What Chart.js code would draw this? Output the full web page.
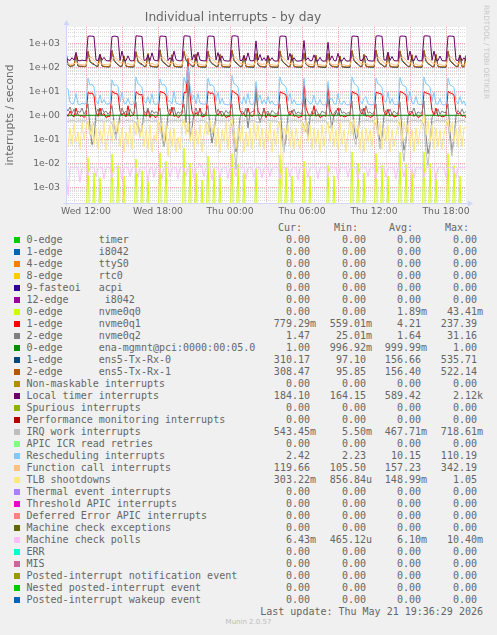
<!DOCTYPE html>
<html>
<head>
<meta charset="utf-8">
<script src="https://cdn.jsdelivr.net/npm/chart.js@4/dist/chart.umd.min.js"></script>
<style>
  html, body { margin: 0; padding: 0; background: #f0f0f0; }
  #wrap { position: relative; width: 497px; height: 635px; overflow: hidden; }
  #c { position: absolute; left: 0; top: 0; }
  .txt { position: absolute; white-space: pre; line-height: 12px; height: 12px;
         font-family: 'DejaVu Sans Mono', monospace; font-size: 10px; color: #666; }
  .sw { position: absolute; width: 6px; height: 6px; }
  #rrd { position: absolute; left: 482px; top: 5px; writing-mode: vertical-rl;
         font-family: 'DejaVu Sans', sans-serif; font-size: 7.3px; color: #c8c8c8; }
  #munin { position: absolute; left: 0; width: 497px; top: 618px; text-align: center;
           font-family: 'DejaVu Sans', sans-serif; font-size: 7px; color: #bdbdbd; }
</style>
</head>
<body>
<div id="wrap">
  <canvas id="c" width="497" height="222"></canvas>
  <div id="rrd">RRDTOOL / TOBI OETIKER</div>
  <div id="legend"></div>
  <div id="munin">Munin 2.0.57</div>
</div>
<script>
// time axis: 10 minute steps from Wed 10:20 (hours since Wed 00:00)
const startHour = 10 + 20 / 60;
const stepHours = 10 / 60;
const endHour = 43 + 40 / 60;

const xTickHours = [12, 18, 24, 30, 36, 42];
const xTickLabels = ['Wed 12:00', 'Wed 18:00', 'Thu 00:00', 'Thu 06:00', 'Thu 12:00', 'Thu 18:00'];
const yTickValues = [1e-3, 1e-2, 1e-1, 1, 10, 100, 1000];

// legend table
const names = [
  '0-edge      timer', '1-edge      i8042', '4-edge      ttyS0', '8-edge      rtc0',
  '9-fasteoi   acpi', '12-edge      i8042', '0-edge      nvme0q0', '1-edge      nvme0q1',
  '2-edge      nvme0q2', '0-edge      ena-mgmnt@pci:0000:00:05.0', '1-edge      ens5-Tx-Rx-0',
  '2-edge      ens5-Tx-Rx-1', 'Non-maskable interrupts', 'Local timer interrupts',
  'Spurious interrupts', 'Performance monitoring interrupts', 'IRQ work interrupts',
  'APIC ICR read retries', 'Rescheduling interrupts', 'Function call interrupts',
  'TLB shootdowns', 'Thermal event interrupts', 'Threshold APIC interrupts',
  'Deferred Error APIC interrupts', 'Machine check exceptions', 'Machine check polls',
  'ERR', 'MIS', 'Posted-interrupt notification event', 'Nested posted-interrupt event',
  'Posted-interrupt wakeup event'
];
const colors = [
  '#00CC00', '#0066B3', '#FF8000', '#FFCC00', '#330099', '#990099', '#CCFF00', '#FF0000',
  '#808080', '#008F00', '#00487D', '#B35A00', '#B38F00', '#6B006B', '#8FB300', '#B30000',
  '#BEBEBE', '#80FF80', '#80C9FF', '#FFC080', '#FFE680', '#AA80FF', '#EE00CC', '#FF8080',
  '#666600', '#FFBFFF', '#00FFCC', '#CC6699', '#999900', '#00CC00', '#0066B3'
];
const curVals = ['0.00', '0.00', '0.00', '0.00', '0.00', '0.00', '0.00', '779.29m', '1.47', '1.00',
  '310.17', '308.47', '0.00', '184.10', '0.00', '0.00', '543.45m', '0.00', '2.42', '119.66',
  '303.22m', '0.00', '0.00', '0.00', '0.00', '6.43m', '0.00', '0.00', '0.00', '0.00', '0.00'];
const minVals = ['0.00', '0.00', '0.00', '0.00', '0.00', '0.00', '0.00', '559.01m', '25.01m', '996.92m',
  '97.10', '95.85', '0.00', '164.15', '0.00', '0.00', '5.50m', '0.00', '2.23', '105.50',
  '856.84u', '0.00', '0.00', '0.00', '0.00', '465.12u', '0.00', '0.00', '0.00', '0.00', '0.00'];
const avgVals = ['0.00', '0.00', '0.00', '0.00', '0.00', '0.00', '1.89m', '4.21', '1.64', '999.99m',
  '156.66', '156.40', '0.00', '589.42', '0.00', '0.00', '467.71m', '0.00', '10.15', '157.23',
  '148.99m', '0.00', '0.00', '0.00', '0.00', '6.10m', '0.00', '0.00', '0.00', '0.00', '0.00'];
const maxVals = ['0.00', '0.00', '0.00', '0.00', '0.00', '0.00', '43.41m', '237.39', '31.16', '1.00',
  '535.71', '522.14', '0.00', '2.12k', '0.00', '0.00', '718.61m', '0.00', '110.19', '342.19',
  '1.05', '0.00', '0.00', '0.00', '0.00', '10.40m', '0.00', '0.00', '0.00', '0.00', '0.00'];

// series, one value per 10 minutes (201 values)
const nvme0q0 = [
  0, 0, 0, 0, 0, 0, 0, 0, 0, 0,
  0, 0.017, 0, 0, 0.004, 0, 0, 0.0025, 0, 0, 0, 0,
  0, 0.024, 0, 0, 0.008, 0, 0, 0.003, 0, 0, 0, 0,
  0, 0.015, 0, 0, 0.005, 0, 0, 0.003, 0, 0, 0, 0,
  0, 0.027, 0, 0, 0.012, 0, 0, 0, 0, 0, 0, 0,
  0, 0.0434, 0, 0, 0.01, 0, 0, 0.004, 0, 0, 0.002, 0,
  0, 0.02, 0, 0, 0.006, 0, 0, 0.003, 0, 0, 0, 0,
  0, 0.025, 0, 0, 0.009, 0, 0, 0.004, 0, 0, 0, 0,
  0, 0.006, 0, 0, 0, 0, 0, 0, 0, 0, 0, 0,
  0, 0.022, 0, 0, 0.007, 0, 0, 0.003, 0, 0, 0, 0,
  0, 0.012, 0, 0, 0.003, 0, 0, 0, 0, 0, 0, 0,
  0, 0.008, 0, 0, 0.003, 0, 0, 0, 0, 0, 0, 0,
  0, 0.03, 0, 0, 0.01, 0, 0, 0.004, 0, 0, 0, 0,
  0, 0.025, 0, 0, 0.008, 0, 0, 0.003, 0, 0, 0, 0,
  0, 0.028, 0, 0, 0.009, 0, 0, 0.005, 0, 0, 0, 0,
  0, 0.03, 0, 0, 0.01, 0, 0, 0.004, 0, 0, 0, 0,
  0, 0.025, 0, 0, 0.008, 0, 0, 0.003, 0, 0, 0
];
const nvme0q1 = [
  1.2, 0.9, 1.5, 1.0, 0.85, 2.0, 1.1, 0.9, 1.0, 0.8,
  1.0, 9.0, 8.0, 8.5, 6.5, 1.3, 0.9, 2.0, 1.0, 1.2, 0.8, 0.9,
  0.9, 10.5, 8.5, 8.0, 7.5, 1.5, 1.0, 1.3, 0.85, 2.5, 0.9, 1.0,
  1.1, 9.5, 8.0, 7.0, 7.5, 1.2, 0.9, 1.8, 0.8, 1.1, 0.9, 0.8,
  1.0, 10.0, 9.0, 8.5, 7.0, 1.4, 1.0, 2.2, 0.9, 1.0, 0.8, 0.9,
  1.2, 9.0, 8.5, 237, 7.0, 1.5, 0.9, 1.3, 1.0, 2.0, 0.85, 0.9,
  1.0, 10.0, 8.0, 8.5, 7.5, 1.3, 1.0, 1.5, 0.9, 1.1, 0.8, 0.9,
  0.9, 11.0, 9.0, 8.0, 7.0, 1.6, 1.1, 1.2, 0.85, 2.0, 1.0, 0.9,
  1.0, 15.0, 1.5, 1.1, 0.9, 2.0, 0.8, 1.2, 0.9, 1.0, 0.85, 0.9,
  1.0, 9.5, 8.5, 8.0, 7.0, 1.4, 1.0, 1.6, 0.9, 1.0, 0.8, 0.85,
  0.9, 25.0, 2.0, 1.2, 0.9, 1.0, 2.5, 0.9, 1.1, 0.8, 0.9, 1.0,
  0.9, 18.0, 1.8, 1.1, 0.9, 1.3, 2.0, 0.9, 1.0, 0.85, 0.9, 1.0,
  1.0, 10.0, 8.5, 8.0, 7.0, 1.5, 1.1, 2.0, 0.9, 1.0, 0.8, 0.9,
  1.0, 9.0, 8.5, 8.0, 7.5, 1.4, 1.0, 1.8, 0.9, 1.2, 0.85, 0.9,
  1.0, 10.0, 9.0, 8.0, 7.0, 1.3, 1.0, 1.5, 0.9, 1.1, 0.8, 0.9,
  1.0, 9.5, 8.5, 8.0, 7.5, 1.6, 1.0, 2.0, 0.9, 1.0, 0.85, 0.9,
  1.0, 10.0, 8.5, 8.0, 7.0, 1.4, 1.1, 1.3, 0.9, 1.0, 0.78
];
const nvme0q2 = [
  2.0, 1.5, 2.2, 1.2, 1.8, 1.0, 1.5, 1.3, 2.0, 1.1,
  1.5, 3.0, 0.3, 0.06, 0.1, 1.2, 1.8, 1.0, 2.0, 1.3, 1.5, 1.1,
  1.4, 2.5, 0.5, 0.16, 0.3, 1.0, 2.0, 1.2, 1.5, 1.0, 1.8, 1.2,
  1.3, 3.5, 0.4, 0.19, 0.25, 1.5, 1.2, 2.0, 1.0, 1.6, 1.2, 1.4,
  1.2, 2.0, 0.2, 0.05, 0.15, 1.1, 1.8, 1.3, 2.2, 1.0, 1.4, 1.2,
  1.5, 3.0, 0.5, 31, 0.12, 0.3, 1.2, 2.0, 1.1, 1.6, 1.3, 1.0,
  1.3, 2.5, 0.3, 0.07, 0.2, 1.0, 1.8, 1.2, 1.5, 1.1, 1.6, 1.2,
  1.4, 3.0, 0.2, 0.03, 0.1, 0.8, 1.5, 1.2, 2.0, 0.3, 1.2, 1.4,
  1.5, 10, 1.2, 0.5, 1.0, 1.8, 1.2, 1.5, 1.0, 1.6, 1.3, 1.1,
  1.3, 3.0, 0.2, 0.04, 0.1, 1.0, 1.5, 1.2, 1.8, 1.1, 1.4, 1.2,
  1.2, 6.0, 0.5, 0.12, 0.8, 1.5, 1.1, 1.8, 1.2, 1.0, 1.5, 1.3,
  1.2, 5.0, 1.0, 0.3, 1.2, 1.6, 1.0, 2.0, 1.2, 1.4, 1.1, 1.3,
  1.2, 4.0, 0.3, 0.1, 0.15, 1.2, 1.8, 1.0, 2.5, 1.2, 1.4, 1.1,
  1.3, 3.0, 0.25, 0.08, 0.12, 1.0, 1.6, 1.2, 1.8, 1.1, 1.5, 1.2,
  1.2, 3.5, 0.2, 0.035, 0.08, 0.9, 1.5, 1.3, 2.0, 1.0, 1.4, 1.2,
  1.3, 4.0, 0.15, 0.025, 0.06, 0.8, 1.4, 1.2, 1.8, 1.1, 1.5, 1.3,
  1.3, 3.0, 0.2, 0.03, 0.1, 1.0, 1.6, 1.2, 1.8, 1.2, 1.47
];
const enaMgmnt = [
  1, 1, 1, 1, 1, 1, 1, 1, 1, 1,
  1, 1, 1, 1, 1, 1, 1, 1, 1, 1, 1, 1,
  1, 1, 1, 1, 1, 1, 1, 1, 1, 1, 1, 1,
  1, 1, 1, 1, 1, 1, 1, 1, 1, 1, 1, 1,
  1, 1, 1, 1, 1, 1, 1, 1, 1, 1, 1, 1,
  1, 1, 1, 0.997, 1, 1, 1, 1, 1, 1, 1, 1,
  1, 1, 1, 1, 1, 1, 1, 1, 1, 1, 1, 1,
  1, 1, 1, 1, 1, 1, 1, 1, 1, 1, 1, 1,
  1, 1, 1, 1, 1, 1, 1, 1, 1, 1, 1, 1,
  1, 1, 1, 1, 1, 1, 1, 1, 1, 1, 1, 1,
  1, 1, 1, 1, 1, 1, 1, 1, 1, 1, 1, 1,
  1, 1, 1, 1, 1, 1, 1, 1, 1, 1, 1, 1,
  1, 1, 1, 1, 1, 1, 1, 1, 1, 1, 1, 1,
  1, 1, 1, 1, 1, 1, 1, 1, 1, 1, 1, 1,
  1, 1, 1, 1, 1, 1, 1, 1, 1, 1, 1, 1,
  1, 1, 1, 1, 1, 1, 1, 1, 1, 1, 1, 1,
  1, 1, 1, 1, 1, 1, 1, 1, 1, 1, 1
];
const txRx0 = [
  430, 125, 108, 112, 118, 320, 112, 108, 110, 106,
  107, 450, 170, 140, 130, 112, 107, 330, 112, 107, 105, 102,
  105, 500, 190, 150, 125, 108, 106, 290, 110, 105, 103, 101,
  104, 440, 170, 140, 130, 108, 105, 360, 112, 106, 104, 101,
  103, 535, 180, 150, 128, 109, 106, 320, 110, 104, 103, 100,
  102, 450, 190, 160, 130, 110, 106, 340, 108, 104, 101, 100,
  101, 460, 180, 140, 125, 108, 104, 330, 106, 103, 101, 100,
  101, 500, 190, 150, 128, 108, 104, 300, 106, 103, 101, 100,
  100, 360, 125, 108, 104, 102, 101, 280, 106, 102, 100, 99,
  99, 470, 180, 150, 125, 106, 103, 320, 106, 102, 100, 99,
  99, 380, 135, 110, 104, 102, 101, 300, 106, 102, 100, 98,
  98, 370, 125, 108, 104, 102, 100, 290, 104, 101, 99, 97,
  99, 480, 190, 150, 130, 108, 104, 330, 108, 103, 101, 100,
  100, 510, 180, 140, 125, 106, 104, 340, 106, 102, 100, 99,
  100, 470, 190, 150, 128, 108, 104, 320, 106, 102, 100, 99,
  100, 490, 180, 140, 125, 106, 103, 330, 106, 102, 100, 99,
  100, 460, 190, 150, 128, 108, 104, 310, 106, 102, 310
];
const txRx1 = [
  450, 130, 110, 115, 120, 350, 115, 110, 112, 108,
  110, 470, 180, 150, 140, 115, 110, 350, 115, 110, 108, 105,
  108, 480, 200, 160, 130, 112, 110, 300, 112, 108, 106, 105,
  108, 450, 180, 150, 140, 112, 108, 380, 115, 110, 107, 105,
  107, 500, 190, 160, 135, 112, 110, 340, 112, 108, 106, 104,
  106, 460, 200, 170, 140, 115, 110, 360, 112, 108, 105, 104,
  105, 470, 190, 150, 130, 112, 108, 350, 110, 107, 105, 104,
  105, 520, 200, 160, 135, 112, 108, 320, 110, 107, 105, 104,
  105, 380, 130, 112, 108, 106, 105, 300, 110, 106, 104, 103,
  104, 480, 190, 160, 130, 110, 107, 340, 110, 106, 104, 103,
  104, 400, 140, 115, 108, 106, 105, 320, 110, 106, 104, 103,
  103, 380, 130, 112, 108, 106, 104, 300, 108, 105, 104, 103,
  104, 500, 200, 160, 140, 112, 108, 350, 112, 107, 105, 104,
  104, 522, 190, 150, 130, 110, 108, 360, 110, 106, 104, 103,
  104, 480, 200, 160, 135, 112, 108, 340, 110, 106, 104, 103,
  104, 500, 190, 150, 130, 110, 107, 350, 110, 106, 104, 103,
  104, 470, 200, 160, 135, 112, 108, 330, 110, 106, 308
];
const localTimer = [
  230, 210, 190, 250, 200, 420, 190, 185, 200, 190,
  190, 1950, 2000, 1980, 1900, 200, 190, 340, 200, 260, 190, 185,
  185, 1900, 1980, 1950, 1850, 190, 470, 200, 190, 300, 190, 185,
  190, 2050, 2000, 1980, 1900, 195, 200, 320, 190, 400, 200, 190,
  185, 1950, 2000, 1950, 1900, 190, 250, 195, 470, 210, 190, 185,
  190, 2000, 2050, 1980, 1950, 200, 340, 190, 430, 200, 190, 185,
  185, 1950, 2000, 1980, 1900, 200, 410, 195, 300, 190, 185, 180,
  185, 1980, 2050, 2000, 1950, 195, 190, 300, 190, 400, 190, 185,
  190, 1250, 200, 340, 190, 250, 185, 310, 190, 250, 185, 180,
  185, 1950, 2000, 1980, 1900, 200, 380, 190, 250, 185, 180, 185,
  190, 1300, 200, 250, 185, 190, 330, 190, 185, 260, 185, 180,
  185, 1100, 200, 300, 190, 185, 380, 190, 185, 250, 185, 180,
  185, 1950, 2000, 1950, 1900, 195, 190, 260, 300, 190, 185, 180,
  185, 1980, 2050, 2000, 1950, 200, 200, 430, 195, 280, 190, 185,
  185, 1950, 2000, 1980, 1900, 200, 470, 200, 190, 310, 190, 185,
  185, 2000, 2050, 2000, 1950, 195, 470, 200, 190, 295, 190, 185,
  185, 1950, 2000, 1980, 1900, 200, 190, 310, 190, 250, 184
];
const irqWork = [
  0.6, 0.55, 0.6, 0.58, 0.62, 0.55, 0.6, 0.57, 0.6, 0.58,
  0.6, 0.5, 0.15, 0.3, 0.5, 0.6, 0.62, 0.58, 0.6, 0.55, 0.6, 0.58,
  0.6, 0.45, 0.2, 0.1, 0.4, 0.58, 0.6, 0.55, 0.62, 0.6, 0.57, 0.6,
  0.58, 0.5, 0.3, 0.12, 0.45, 0.6, 0.58, 0.62, 0.6, 0.55, 0.6, 0.58,
  0.6, 0.4, 0.1, 0.05, 0.3, 0.55, 0.6, 0.58, 0.6, 0.62, 0.57, 0.6,
  0.6, 0.5, 0.3, 0.2, 0.45, 0.6, 0.58, 0.6, 0.55, 0.6, 0.62, 0.58,
  0.58, 0.45, 0.2, 0.15, 0.4, 0.6, 0.62, 0.58, 0.6, 0.57, 0.6, 0.59,
  0.6, 0.35, 0.05, 0.0055, 0.1, 0.5, 0.6, 0.58, 0.62, 0.6, 0.57, 0.6,
  0.6, 0.55, 0.5, 0.6, 0.58, 0.6, 0.55, 0.62, 0.6, 0.58, 0.6, 0.57,
  0.58, 0.4, 0.08, 0.03, 0.2, 0.55, 0.6, 0.58, 0.62, 0.6, 0.57, 0.6,
  0.6, 0.35, 0.2, 0.5, 0.58, 0.6, 0.62, 0.57, 0.6, 0.58, 0.6, 0.59,
  0.6, 0.4, 0.3, 0.55, 0.6, 0.58, 0.6, 0.62, 0.57, 0.6, 0.58, 0.6,
  0.6, 0.45, 0.1, 0.06, 0.3, 0.55, 0.6, 0.58, 0.62, 0.6, 0.57, 0.6,
  0.58, 0.4, 0.15, 0.04, 0.2, 0.55, 0.6, 0.62, 0.58, 0.6, 0.57, 0.6,
  0.6, 0.4, 0.05, 0.012, 0.1, 0.5, 0.6, 0.58, 0.62, 0.6, 0.57, 0.6,
  0.6, 0.35, 0.03, 0.008, 0.05, 0.45, 0.58, 0.6, 0.62, 0.57, 0.6, 0.58,
  0.6, 0.4, 0.08, 0.02, 0.15, 0.5, 0.6, 0.58, 0.62, 0.6, 0.543
];
const rescheduling = [
  15, 12, 3.5, 3.0, 3.2, 8.0, 3.0, 2.8, 3.2, 3.0,
  3.0, 35, 18, 20, 15, 4.0, 3.0, 7.0, 3.2, 4.5, 2.9, 3.0,
  3.0, 30, 17, 19, 16, 3.5, 9.0, 3.2, 3.0, 5.0, 2.9, 2.8,
  3.0, 40, 20, 18, 14, 4.0, 3.2, 6.0, 3.0, 8.0, 3.0, 2.9,
  2.9, 33, 18, 20, 15, 3.8, 4.0, 3.0, 10.0, 3.2, 3.0, 2.8,
  3.0, 38, 20, 110, 16, 4.5, 7.0, 3.0, 8.0, 3.2, 3.0, 2.9,
  2.9, 35, 17, 19, 15, 4.0, 9.0, 3.0, 5.0, 3.0, 2.8, 2.7,
  2.9, 45, 20, 18, 15, 3.8, 3.0, 6.0, 3.0, 8.0, 3.0, 2.8,
  3.0, 25, 4.0, 7.0, 3.0, 4.5, 2.9, 6.0, 3.0, 4.0, 2.8, 2.7,
  2.8, 40, 20, 18, 15, 4.0, 8.0, 3.0, 4.5, 2.9, 2.8, 2.9,
  3.0, 35, 5.0, 4.0, 3.0, 3.2, 7.0, 3.0, 2.9, 4.5, 2.8, 2.7,
  2.8, 25, 4.5, 5.0, 3.0, 2.9, 8.0, 3.0, 2.9, 4.0, 2.8, 2.7,
  2.8, 40, 22, 18, 15, 3.8, 3.0, 5.0, 6.0, 3.0, 2.8, 2.7,
  2.8, 35, 20, 18, 14, 4.0, 3.5, 9.0, 3.0, 5.0, 2.9, 2.8,
  2.8, 38, 19, 17, 15, 4.0, 10.0, 3.2, 3.0, 6.0, 2.9, 2.8,
  2.8, 40, 20, 18, 15, 3.8, 9.0, 3.0, 2.9, 5.0, 2.8, 2.7,
  2.8, 35, 18, 17, 14, 4.0, 3.0, 6.0, 3.0, 4.0, 2.42
];
const functionCall = [
  150, 140, 130, 135, 140, 160, 140, 130, 128, 125,
  125, 230, 260, 250, 200, 160, 140, 150, 135, 130, 128, 125,
  125, 220, 250, 240, 190, 150, 160, 140, 132, 145, 128, 124,
  124, 240, 270, 250, 200, 155, 140, 150, 130, 150, 126, 124,
  124, 230, 260, 240, 190, 150, 145, 140, 160, 130, 126, 123,
  123, 250, 342, 260, 210, 160, 150, 140, 150, 130, 125, 122,
  122, 230, 260, 240, 190, 150, 150, 135, 140, 128, 124, 122,
  122, 240, 270, 250, 200, 150, 140, 145, 130, 140, 124, 121,
  121, 200, 150, 140, 130, 140, 128, 135, 125, 130, 122, 120,
  120, 230, 260, 240, 190, 150, 145, 135, 140, 128, 122, 120,
  120, 210, 150, 135, 128, 130, 140, 125, 122, 130, 121, 120,
  120, 200, 145, 130, 125, 128, 138, 124, 122, 128, 120, 118,
  119, 240, 270, 250, 200, 150, 140, 135, 145, 128, 122, 120,
  120, 230, 260, 240, 190, 150, 145, 150, 135, 140, 124, 121,
  121, 240, 265, 245, 195, 150, 155, 135, 130, 140, 123, 120,
  120, 235, 260, 240, 195, 150, 150, 135, 130, 138, 122, 120,
  120, 240, 270, 250, 200, 150, 140, 145, 130, 125, 119.66
];
const tlbShootdowns = [
  0.04, 0.05, 0.3, 0.06, 0.45, 0.08, 0.2, 0.04, 0.5, 0.1,
  0.3, 0.6, 0.15, 0.45, 0.06, 0.3, 0.04, 0.25, 0.07, 0.5, 0.035, 0.15,
  0.4, 0.08, 0.6, 0.2, 0.5, 0.05, 0.3, 0.03, 0.2, 0.06, 0.4, 0.04,
  0.5, 0.15, 0.7, 0.12, 0.4, 0.05, 0.25, 0.04, 0.4, 0.03, 0.15, 0.08,
  0.6, 0.2, 0.5, 0.08, 0.4, 0.02, 0.25, 0.05, 0.3, 0.03, 0.12, 0.04,
  0.4, 0.7, 0.15, 0.5, 0.08, 0.3, 0.04, 0.25, 0.06, 0.4, 0.03, 0.15,
  0.5, 0.15, 0.6, 0.2, 0.4, 0.05, 0.3, 0.03, 0.25, 0.08, 0.5, 0.04,
  0.4, 0.8, 0.2, 0.04, 0.3, 0.08, 0.4, 0.03, 0.2, 0.05, 0.3, 0.04,
  0.5, 0.1, 0.4, 0.05, 0.3, 0.04, 0.25, 0.08, 0.5, 0.03, 0.25, 0.06,
  0.4, 0.6, 0.00086, 0.3, 0.15, 0.4, 0.05, 0.25, 0.04, 0.3, 0.08, 0.04,
  0.5, 0.2, 0.6, 0.08, 0.4, 0.04, 0.3, 0.06, 0.25, 0.03, 0.4, 0.05,
  0.3, 0.5, 0.08, 0.4, 0.05, 0.25, 0.04, 0.5, 0.06, 0.25, 0.03, 0.15,
  0.6, 0.15, 0.7, 0.2, 0.4, 0.04, 0.25, 0.03, 0.3, 0.08, 0.25, 0.05,
  0.5, 0.8, 0.15, 0.5, 0.04, 0.3, 0.08, 0.4, 0.03, 0.25, 0.05, 0.15,
  0.4, 0.7, 0.08, 0.5, 0.2, 0.4, 0.05, 0.25, 0.03, 0.3, 0.06, 0.25,
  0.5, 1.05, 0.15, 0.6, 0.08, 0.4, 0.04, 0.3, 0.05, 0.25, 0.04, 0.15,
  0.4, 0.7, 0.2, 0.5, 0.08, 0.3, 0.05, 0.4, 0.05, 0.3, 0.303
];
const mcePolls = [
  0.0065, 0.00047, 0.0066, 0.0065, 0.0064, 0.0066, 0.0065, 0.0016, 0.0066, 0.0065,
  0.0064, 0.003, 0.0066, 0.0065, 0.0065, 0.0028, 0.0066, 0.0064, 0.0066, 0.0022, 0.0065, 0.0066,
  0.0065, 0.0025, 0.0066, 0.0064, 0.0065, 0.0066, 0.0022, 0.0065, 0.0066, 0.0064, 0.0028, 0.0065,
  0.0066, 0.0065, 0.0025, 0.0066, 0.0065, 0.0064, 0.0066, 0.0017, 0.0065, 0.0066, 0.0025, 0.0065,
  0.0066, 0.0064, 0.0022, 0.0066, 0.0065, 0.0066, 0.0027, 0.0065, 0.0064, 0.0066, 0.0023, 0.0065,
  0.0065, 0.0066, 0.003, 0.0065, 0.0066, 0.0064, 0.0024, 0.0066, 0.0065, 0.0104, 0.0065, 0.0028,
  0.0066, 0.0065, 0.0064, 0.0021, 0.0066, 0.0065, 0.0066, 0.0026, 0.0065, 0.0064, 0.0066, 0.0023,
  0.0065, 0.0066, 0.0065, 0.0028, 0.0066, 0.0064, 0.0065, 0.0066, 0.0022, 0.0065, 0.0066, 0.0064,
  0.0026, 0.0065, 0.0066, 0.0064, 0.0024, 0.0066, 0.0065, 0.0066, 0.0027, 0.0065, 0.0064, 0.0066,
  0.0065, 0.0022, 0.0066, 0.0065, 0.0064, 0.0066, 0.0028, 0.0065, 0.0066, 0.0064, 0.0021, 0.0066,
  0.0065, 0.0066, 0.0064, 0.0025, 0.0066, 0.0065, 0.0066, 0.0064, 0.0023, 0.0066, 0.0065, 0.0064,
  0.0066, 0.0027, 0.0065, 0.0066, 0.0064, 0.0065, 0.0022, 0.0066, 0.0065, 0.0064, 0.0066, 0.0026,
  0.0065, 0.0066, 0.0064, 0.0065, 0.0021, 0.0066, 0.0065, 0.0064, 0.0066, 0.0028, 0.0065, 0.0066,
  0.0064, 0.0023, 0.0066, 0.0065, 0.0066, 0.0064, 0.0026, 0.0065, 0.0066, 0.0065, 0.0064, 0.0022,
  0.0066, 0.0065, 0.0064, 0.0027, 0.0066, 0.0065, 0.0066, 0.0064, 0.0024, 0.0066, 0.0065, 0.0064,
  0.0066, 0.0025, 0.0065, 0.0066, 0.0064, 0.0065, 0.0066, 0.0021, 0.0065, 0.0066, 0.0064, 0.0065,
  0.0027, 0.0066, 0.0065, 0.0064, 0.0066, 0.0023, 0.0065, 0.0066, 0.0064, 0.0065, 0.0064
];

// which legend rows have something to draw (the others are flat zero)
const plotted = [
  [6, nvme0q0], [7, nvme0q1], [8, nvme0q2], [9, enaMgmnt], [10, txRx0], [11, txRx1],
  [13, localTimer], [16, irqWork], [18, rescheduling], [19, functionCall],
  [20, tlbShootdowns], [25, mcePolls]
];

const yMin = Math.pow(10, -3.655);
const yMax = Math.pow(10, 3.68);

function sciLabel(v) {
  const e = Math.round(Math.log10(v));
  return '1e' + (e < 0 ? '-' : '+') + String(Math.abs(e)).padStart(2, '0');
}

const datasets = plotted.map(([idx, values], n) => ({
  label: names[idx],
  // zero can't sit on a log axis, push it below the bottom edge
  data: values.map((v, i) => ({ x: startHour + i * stepHours, y: v > 0 ? v : 1e-5 })),
  borderColor: colors[idx],
  borderWidth: 1,
  pointRadius: 0,
  tension: 0,
  order: 100 - n
}));

// rrdtool style grid under the lines
const gridPlugin = {
  id: 'rrdGrid',
  beforeDatasetsDraw(chart) {
    const { ctx, chartArea: a, scales } = chart;
    const xs = scales.x, ys = scales.y;
    ctx.save();
    ctx.fillStyle = '#ffffff';
    ctx.fillRect(a.left, a.top, a.right - a.left, a.bottom - a.top);
    ctx.lineWidth = 1;
    ctx.setLineDash([1, 1]);

    const hLine = (v, color) => {
      const py = Math.round(ys.getPixelForValue(v)) + 0.5;
      if (py < a.top || py > a.bottom) return;
      ctx.strokeStyle = color;
      ctx.beginPath();
      ctx.moveTo(a.left, py);
      ctx.lineTo(a.right, py);
      ctx.stroke();
    };
    const vLine = (h, color) => {
      const px = Math.round(xs.getPixelForValue(h)) + 0.5;
      ctx.strokeStyle = color;
      ctx.beginPath();
      ctx.moveTo(px, a.top);
      ctx.lineTo(px, a.bottom);
      ctx.stroke();
    };

    for (let e = -4; e <= 3; e++) {
      for (let k = 2; k <= 9; k++) hLine(k * Math.pow(10, e), '#dadada');
    }
    for (let h = Math.ceil(startHour); h <= endHour; h++) {
      if (h % 3 !== 0) vLine(h, '#dadada');
    }
    for (let e = -3; e <= 3; e++) hLine(Math.pow(10, e), '#f2a6a6');
    for (let h = Math.ceil(startHour); h <= endHour; h++) {
      if (h % 3 === 0) vLine(h, '#f2a6a6');
    }
    ctx.restore();
  },
  afterDatasetsDraw(chart) {
    const { ctx, chartArea: a } = chart;
    const axisColor = '#cfd6f8';
    const left = Math.round(a.left) + 0.5;
    const bottom = Math.round(a.bottom) + 0.5;
    ctx.save();
    ctx.strokeStyle = axisColor;
    ctx.fillStyle = axisColor;
    ctx.lineWidth = 1;
    ctx.beginPath();
    ctx.moveTo(left, bottom + 2);
    ctx.lineTo(left, a.top - 3);
    ctx.moveTo(left - 3, bottom);
    ctx.lineTo(a.right + 3, bottom);
    ctx.stroke();
    // arrow heads
    ctx.beginPath();
    ctx.moveTo(left - 3, a.top - 2);
    ctx.lineTo(left + 3, a.top - 2);
    ctx.lineTo(left, a.top - 7);
    ctx.closePath();
    ctx.fill();
    ctx.beginPath();
    ctx.moveTo(a.right + 2, bottom - 3);
    ctx.lineTo(a.right + 2, bottom + 3);
    ctx.lineTo(a.right + 7, bottom);
    ctx.closePath();
    ctx.fill();
    ctx.restore();
  }
};

new Chart(document.getElementById('c'), {
  type: 'line',
  data: { datasets },
  plugins: [gridPlugin],
  options: {
    responsive: false,
    animation: false,
    devicePixelRatio: 1,
    layout: { padding: { left: 0, right: 31, top: 0, bottom: 0 } },
    plugins: {
      legend: { display: false },
      tooltip: { enabled: false },
      title: {
        display: true,
        text: 'Individual interrupts - by day',
        color: '#666',
        font: { family: 'DejaVu Sans', size: 12.2, weight: 'normal' },
        padding: { top: 11, bottom: 1.3 }
      }
    },
    scales: {
      x: {
        type: 'linear',
        min: startHour,
        max: endHour,
        grid: { display: false, drawTicks: false },
        border: { display: false },
        afterFit: s => { s.height = 19; },
        afterBuildTicks: s => { s.ticks = xTickHours.map(v => ({ value: v })); },
        ticks: {
          autoSkip: false,
          maxRotation: 0,
          padding: 3,
          color: '#666',
          font: { family: 'DejaVu Sans', size: 9.3 },
          callback: v => xTickLabels[xTickHours.indexOf(v)]
        }
      },
      y: {
        type: 'logarithmic',
        min: yMin,
        max: yMax,
        grid: { display: false, drawTicks: false },
        border: { display: false },
        afterFit: s => { s.width = 66; },
        afterBuildTicks: s => { s.ticks = yTickValues.map(v => ({ value: v })); },
        ticks: {
          autoSkip: false,
          padding: 6,
          color: '#666',
          font: { family: 'DejaVu Sans', size: 9.3 },
          callback: v => sciLabel(v)
        },
        title: {
          display: true,
          text: 'interrupts / second',
          color: '#666',
          font: { family: 'DejaVu Sans', size: 10.7 },
          padding: { top: 4, bottom: 0 }
        }
      }
    }
  }
});

// legend table as text under the graph
const legend = document.getElementById('legend');
const colRight = [316, 372, 427, 483];
const charW = 6.02;

function putText(text, cy, opts) {
  const d = document.createElement('div');
  d.className = 'txt';
  d.textContent = text;
  d.style.top = (cy - 6) + 'px';
  if (opts.left !== undefined) d.style.left = opts.left + 'px';
  if (opts.right !== undefined) d.style.right = (497 - opts.right) + 'px';
  legend.appendChild(d);
}

['Cur:', 'Min:', 'Avg:', 'Max:'].forEach((h, c) => {
  putText(h, 228, { right: colRight[c] - 14 });
});

names.forEach((name, r) => {
  const cy = 240 + r * 12;
  const sw = document.createElement('div');
  sw.className = 'sw';
  sw.style.left = '14px';
  sw.style.top = (cy - 3) + 'px';
  sw.style.background = colors[r];
  legend.appendChild(sw);
  putText(name, cy, { left: 26.5 });
  [curVals, minVals, avgVals, maxVals].forEach((col, c) => {
    const s = col[r];
    const right = /\d$/.test(s) ? colRight[c] - charW : colRight[c];
    putText(s, cy, { right });
  });
});

putText('Last update: Thu May 21 19:36:29 2026', 611.5, { right: 483 });
</script>
</body>
</html>
